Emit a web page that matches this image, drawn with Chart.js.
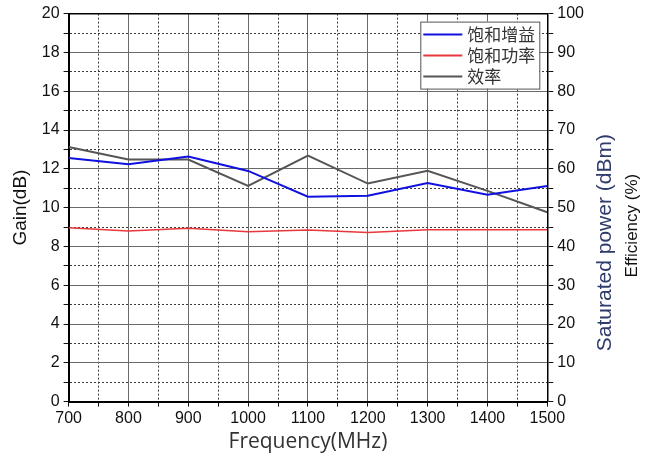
<!DOCTYPE html>
<html>
<head>
<meta charset="utf-8">
<script src="https://cdn.jsdelivr.net/npm/chart.js@4.4.0/dist/chart.umd.min.js"></script>
<style>
    html, body { margin: 0; padding: 0; background: #fff; }
    #wrap { width: 652px; height: 465px; }
</style>
</head>
<body>
<div id="wrap"><canvas id="chart"></canvas></div>
<script>
const freq = [700, 800, 900, 1000, 1100, 1200, 1300, 1400, 1500];
const gainDb = [12.56, 12.23, 12.63, 11.89, 10.56, 10.61, 11.27, 10.66, 11.11];
const satPowerDbm = [44.8, 44.0, 44.7, 43.8, 44.2, 43.6, 44.3, 44.3, 44.3];
const efficiencyPct = [65.6, 62.4, 62.4, 55.6, 63.4, 56.2, 59.5, 54.3, 48.8];
const legendLabels = ['饱和增益', '饱和功率', '效率'];

function points(ys) {
    return freq.map((f, i) => ({x: f, y: ys[i]}));
}

const tickFont = {family: 'Liberation Sans', size: 16};
const majorGrid = '#6a6a6a';
const minorGrid = '#3a3a3a';

// boxed legend drawn inside the plot, top right
const innerLegend = {
    id: 'innerLegend',
    afterDraw(chart) {
        const ctx = chart.ctx;
        const area = chart.chartArea;
        const x0 = area.right - 127, y0 = area.top + 8;
        const w = 119, h = 67;
        ctx.save();
        ctx.fillStyle = '#fff';
        ctx.fillRect(x0, y0, w, h);
        ctx.strokeStyle = '#555';
        ctx.lineWidth = 1;
        ctx.strokeRect(x0 + 0.5, y0 + 0.5, w, h);
        ctx.font = '17px "Noto Sans CJK SC"';
        ctx.textBaseline = 'middle';
        chart.data.datasets.forEach((ds, i) => {
            const y = y0 + 13 + i * 21;
            ctx.strokeStyle = ds.borderColor;
            ctx.lineWidth = 2;
            ctx.beginPath();
            ctx.moveTo(x0 + 3, y);
            ctx.lineTo(x0 + 42, y);
            ctx.stroke();
            ctx.fillStyle = '#333';
            ctx.fillText(ds.label, x0 + 47, y);
        });
        ctx.restore();
    }
};

// the two right-hand axis titles, reading bottom to top
const rightTitles = {
    id: 'rightTitles',
    afterDraw(chart) {
        const ctx = chart.ctx;
        const area = chart.chartArea;
        ctx.save();
        ctx.textAlign = 'center';
        ctx.textBaseline = 'middle';
        ctx.translate(area.right + 58, area.top + 229);
        ctx.rotate(-Math.PI / 2);
        ctx.font = '21px "Liberation Sans"';
        ctx.fillStyle = '#2e3b6b';
        ctx.fillText('Saturated power (dBm)', 0, 0);
        ctx.restore();
        ctx.save();
        ctx.textAlign = 'center';
        ctx.textBaseline = 'middle';
        ctx.translate(area.right + 85, area.top + 212);
        ctx.rotate(-Math.PI / 2);
        ctx.font = '17px "Liberation Sans"';
        ctx.fillStyle = '#111';
        ctx.fillText('Efficiency (%)', 0, 0);
        ctx.restore();
    }
};

new Chart(document.getElementById('chart'), {
    type: 'line',
    data: {
        datasets: [
            {
                label: legendLabels[0],
                data: points(gainDb),
                yAxisID: 'y',
                borderColor: '#1010e0',
                borderWidth: 2
            },
            {
                label: legendLabels[1],
                data: points(satPowerDbm),
                yAxisID: 'y1',
                borderColor: '#e8383d',
                borderWidth: 1.5
            },
            {
                label: legendLabels[2],
                data: points(efficiencyPct),
                yAxisID: 'y1',
                borderColor: '#555555',
                borderWidth: 2
            }
        ]
    },
    options: {
        responsive: true,
        maintainAspectRatio: false,
        animation: false,
        layout: {padding: {top: 4, right: 64, bottom: 10, left: 9}},
        elements: {point: {radius: 0}, line: {tension: 0}},
        plugins: {
            legend: {display: false},
            tooltip: {enabled: false}
        },
        scales: {
            x: {
                type: 'linear',
                min: 700,
                max: 1500,
                ticks: {
                    stepSize: 50,
                    autoSkip: false,
                    maxRotation: 0,
                    color: '#111',
                    font: tickFont,
                    padding: 2,
                    callback: v => (v % 100 === 0 ? v : '')
                },
                grid: {
                    color: c => (c.tick && c.tick.value % 100 === 0 ? majorGrid : minorGrid),
                    tickColor: '#111',
                    tickLength: 5,
                    lineWidth: 1
                },
                border: {
                    color: '#000',
                    width: 2,
                    dash: c => (c.tick && c.tick.value % 100 !== 0 ? [2, 2] : [])
                },
                title: {
                    display: true,
                    text: 'Frequency(MHz)',
                    color: '#333',
                    font: {family: 'Open Sans', size: 21},
                    padding: {top: 0, bottom: 0}
                }
            },
            xTop: {
                type: 'linear',
                position: 'top',
                min: 700,
                max: 1500,
                ticks: {display: false},
                grid: {display: false},
                border: {color: '#000', width: 1.5}
            },
            y: {
                position: 'left',
                min: 0,
                max: 20,
                ticks: {
                    stepSize: 1,
                    autoSkip: false,
                    color: '#111',
                    font: tickFont,
                    padding: 4,
                    callback: v => (v % 2 === 0 ? v : '')
                },
                grid: {
                    color: c => (c.tick && c.tick.value % 2 === 0 ? majorGrid : minorGrid),
                    tickColor: '#111',
                    tickLength: 5,
                    lineWidth: 1
                },
                border: {
                    color: '#000',
                    width: 2,
                    dash: c => (c.tick && c.tick.value % 2 !== 0 ? [2, 2] : [])
                },
                title: {
                    display: true,
                    text: 'Gain(dB)',
                    color: '#111',
                    font: {family: 'Liberation Sans', size: 19},
                    padding: {top: 0, bottom: 6}
                }
            },
            y1: {
                position: 'right',
                min: 0,
                max: 100,
                ticks: {
                    stepSize: 5,
                    autoSkip: false,
                    color: '#111',
                    font: tickFont,
                    padding: 4,
                    callback: v => (v % 10 === 0 ? v : '')
                },
                grid: {
                    drawOnChartArea: false,
                    tickColor: '#111',
                    tickLength: 6
                },
                border: {color: '#000', width: 1.5}
            }
        }
    },
    plugins: [innerLegend, rightTitles]
});
</script>
</body>
</html>
